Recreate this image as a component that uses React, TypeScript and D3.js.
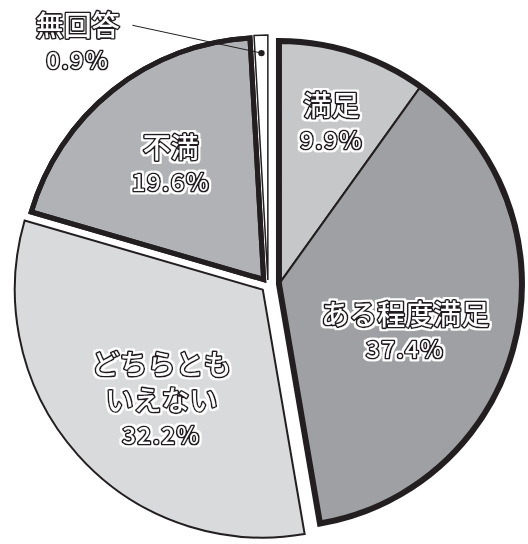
import React from 'react';
import * as d3 from 'd3';

// ---- data ----
const categories = ['満足', 'ある程度満足', 'どちらともいえない', '不満', '無回答'];
const values = [9.9, 37.4, 32.2, 19.6, 0.9];
const percentLabels = ['9.9%', '37.4%', '32.2%', '19.6%', '0.9%'];
const labelLines = [['満足'], ['ある程度満足'], ['どちらとも', 'いえない'], ['不満'], ['無回答']];
const groups = [0, 0, 1, 2, 3];

// ---- styling / layout ----
const W = 528;
const H = 544;
const CX = 268;
const CY = 285;
const fills = ['#c6c7c9', '#9fa0a3', '#d9dadc', '#b1b2b5', '#ffffff'];
const radii = [243, 243, 248, 242, 245];
const sliceStroke = [2, 2, 2, 5, 1.5];
const explode = [11, 7, 7, 5]; // per group
const groupStroke = [6, 0, 5, 0]; // thick outline around group
const labelR = [172, 134, 148, 149, 0];
const labelShift = [0, 6.7, -5, 0, 0]; // degrees
const INK = '#231f20';
const FONT = '"Noto Sans CJK JP", "Noto Sans", sans-serif';
const NAME_SIZE = 28;
const PCT_SIZE = 24;
const NAME_STEP = 36;
const PCT_STEP = 33;
const GLYPH_TOP = 24;

const polar = (r: number, a: number): [number, number] => [r * Math.sin(a), -r * Math.cos(a)];

function OutlinedText({ x, y, size, spacing, lines }: { x: number; y: number; size: number; spacing: number; lines: string[] }) {
  return (
    <text
      x={x}
      y={y}
      textAnchor="middle"
      fontFamily={FONT}
      fontSize={size}
      fontWeight={500}
      letterSpacing={spacing}
      fill="#fff"
      stroke={INK}
      strokeWidth={3.2}
      strokeLinejoin="round"
      paintOrder="stroke"
      filter="url(#halo)"
    >
      {lines.map((t, k) => (
        <tspan key={k} x={x} dy={k === 0 ? 0 : NAME_STEP}>
          {t}
        </tspan>
      ))}
    </text>
  );
}

export default function App() {
  const pie = d3.pie<number>().sort(null).value((d) => d);
  const arcs = pie(values);

  const groupIds = Array.from(new Set(groups));
  const groupRanges = groupIds.map((g) => {
    const idx = groups.map((gg, i) => (gg === g ? i : -1)).filter((i) => i >= 0);
    const start = arcs[idx[0]].startAngle;
    const end = arcs[idx[idx.length - 1]].endAngle;
    return { g, idx, start, end, mid: (start + end) / 2 };
  });
  const groupOffset = (g: number): [number, number] => polar(explode[g], groupRanges[g].mid);

  const arcGen = (r: number) => d3.arc<any>().innerRadius(0).outerRadius(r);

  return (
    <svg width={W} height={H} style={{ position: 'absolute', left: 0, top: 0, background: '#fff' }}>
      <defs>
        <filter id="halo" x="-10%" y="-30%" width="120%" height="160%">
          <feMorphology in="SourceAlpha" operator="dilate" radius="1.6" result="d" />
          <feFlood floodColor="#fff" result="w" />
          <feComposite in="w" in2="d" operator="in" result="h" />
          <feMerge>
            <feMergeNode in="h" />
            <feMergeNode in="SourceGraphic" />
          </feMerge>
        </filter>
      </defs>
      <g transform={`translate(${CX},${CY})`}>
        {groupRanges.map((gr) => {
          const [ox, oy] = groupOffset(gr.g);
          const r = radii[gr.idx[0]];
          return (
            <g key={gr.g} transform={`translate(${ox},${oy})`}>
              {gr.idx.map((i) => (
                <path
                  key={i}
                  d={arcGen(radii[i])(arcs[i]) as string}
                  fill={fills[i]}
                  stroke={INK}
                  strokeWidth={sliceStroke[i]}
                  strokeLinejoin="miter"
                />
              ))}
              {groupStroke[gr.g] > 0 && (
                <path
                  d={arcGen(r)({ startAngle: gr.start, endAngle: gr.end }) as string}
                  fill="none"
                  stroke={INK}
                  strokeWidth={groupStroke[gr.g]}
                  strokeLinejoin="miter"
                />
              )}
            </g>
          );
        })}

        {(() => {
          const i = 4;
          const [ox, oy] = groupOffset(groups[i]);
          const mid = (arcs[i].startAngle + arcs[i].endAngle) / 2;
          const [dx, dy] = polar(227, mid);
          const [ex, ey] = polar(288.5, (332 * Math.PI) / 180);
          return (
            <g transform={`translate(${ox},${oy})`}>
              <line x1={dx} y1={dy} x2={ex} y2={ey} stroke={INK} strokeWidth={1} />
              <circle cx={dx} cy={dy} r={3.2} fill={INK} />
            </g>
          );
        })()}

        {arcs.map((a, i) => {
          const [ox, oy] = groupOffset(groups[i]);
          let ax: number, ay: number;
          if (labelR[i] > 0) {
            const mid = (a.startAngle + a.endAngle) / 2 + (labelShift[i] * Math.PI) / 180;
            [ax, ay] = polar(labelR[i], mid);
          } else {
            [ax, ay] = polar(306, (321.6 * Math.PI) / 180);
          }
          ax += ox;
          ay += oy;
          const lines = labelLines[i];
          const lastName = (lines.length - 1) * NAME_STEP;
          const pctBaseline = lastName + PCT_STEP;
          const center = (-GLYPH_TOP + pctBaseline) / 2;
          const y0 = ay - center;
          return (
            <g key={categories[i]}>
              <OutlinedText x={ax} y={y0} size={NAME_SIZE} spacing={0} lines={lines} />
              <OutlinedText x={ax} y={y0 + pctBaseline} size={PCT_SIZE} spacing={1.5} lines={[percentLabels[i]]} />
            </g>
          );
        })}
      </g>
    </svg>
  );
}
